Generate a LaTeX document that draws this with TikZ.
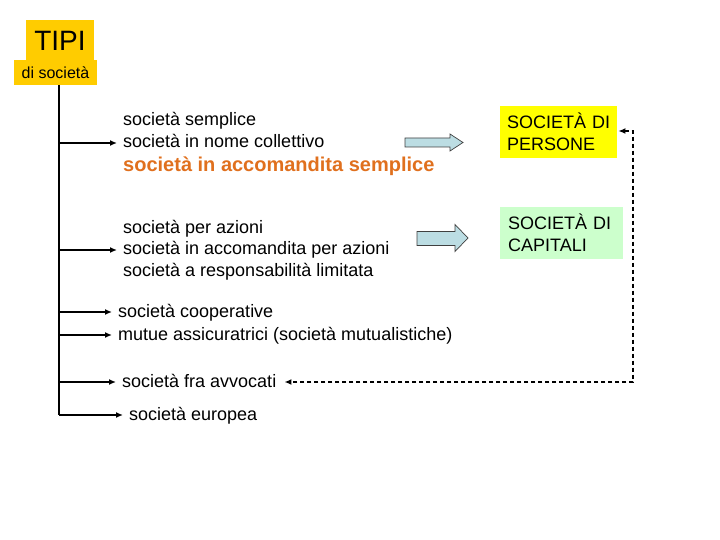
\documentclass[tikz,border=0pt]{standalone}
\usepackage{fontspec}
\setmainfont{Liberation Sans}
\usetikzlibrary{arrows.meta}
\definecolor{titlebg}{HTML}{FFCC00}
\definecolor{persbg}{HTML}{FFFF00}
\definecolor{capbg}{HTML}{CCFFCC}
\definecolor{orangetxt}{HTML}{E0701E}
\definecolor{blockfill}{HTML}{BCDDE3}
\tikzset{
  item/.style={anchor=west, inner sep=0pt, text height=13bp, text depth=3bp, font=\fontsize{18bp}{22bp}\selectfont},
  orangeitem/.style={item, text height=14.5bp, text depth=3.5bp, font=\fontsize{20bp}{24bp}\selectfont\bfseries, text=orangetxt},
  branch/.style={line width=1.8bp, -{Latex[length=7bp,width=6bp]}, shorten >=6bp},
  trunk/.style={line width=1.8bp},
  dashlink/.style={line width=1.7bp, dash pattern=on 4bp off 3bp, {Latex[length=7bp,width=6bp]}-{Latex[length=7bp,width=6bp]}},
  catbox/.style={anchor=north west, align=left, minimum height=52bp, inner ysep=0pt, font=\fontsize{18bp}{22bp}\selectfont},
  blockarrow/.style={draw=black!75, line width=0.7bp, fill=blockfill, line join=miter}
}
\begin{document}
\begin{tikzpicture}[x=1bp,y=-1bp]
\useasboundingbox (0,0) rectangle (720,540);
% title
\node[fill=titlebg, minimum width=68bp, minimum height=40bp, inner sep=0pt,
      font=\fontsize{28bp}{30bp}\selectfont] (tipi) at (60,40.5) {TIPI};
\node[fill=titlebg, minimum width=83bp, minimum height=25bp, inner sep=0pt,
      font=\fontsize{16bp}{19bp}\selectfont] (sub) at (55.5,72.5) {di società};
% items
\node[item] (ss) at (123,121) {società semplice};
\node[item] (snc) at (123,143) {società in nome collettivo};
\node[orangeitem] (sas) at (123,166) {società in accomandita semplice};
\node[item] (spa) at (123,229) {società per azioni};
\node[item] (sapa) at (123,250) {società in accomandita per azioni};
\node[item] (srl) at (123,272) {società a responsabilità limitata};
\node[item] (coop) at (118,312) {società cooperative};
\node[item] (mutue) at (118,335) {mutue assicuratrici (società mutualistiche)};
\node[item] (avv) at (122,382) {società fra avvocati};
\node[item] (eur) at (129,415) {società europea};
% category boxes
\node[catbox, fill=persbg, text width=103bp, inner xsep=7bp] (pers) at (500,106) {\mbox{SOCIETÀ DI}\\PERSONE};
\node[catbox, fill=capbg, text width=107bp, inner xsep=8bp] (cap) at (500,207) {\mbox{SOCIETÀ DI}\\CAPITALI};
% trunk
\coordinate (ttop) at (59,85);
\coordinate (tbot) at (59,415);
\draw[trunk] (ttop) -- (tbot);
\draw[branch] (ttop |- snc.west) -- (snc.west);
\draw[branch] (ttop |- sapa.west) -- (sapa.west);
\draw[branch] (ttop |- coop.west) -- (coop.west);
\draw[branch] (ttop |- mutue.west) -- (mutue.west);
\draw[branch] (ttop |- avv.west) -- (avv.west);
\draw[branch] (tbot) -- (eur.west);
% block arrows
\draw[blockarrow] (405,138) -- (450,138) -- (450,134) -- (463,142.5) -- (450,151) -- (450,147) -- (405,147) -- cycle;
\draw[blockarrow] (417,231.5) -- (455,231.5) -- (455,224.5) -- (468,238) -- (455,251.5) -- (455,245.5) -- (417,245.5) -- cycle;
% dashed link
\coordinate (dtop) at (633,131);
\coordinate (dbot) at (633,382);
\draw[dashlink] ([xshift=1bp]pers.east |- dtop) -- (dtop) -- (dbot) -- ([xshift=8bp]avv.east |- dbot);
\end{tikzpicture}
\end{document}
